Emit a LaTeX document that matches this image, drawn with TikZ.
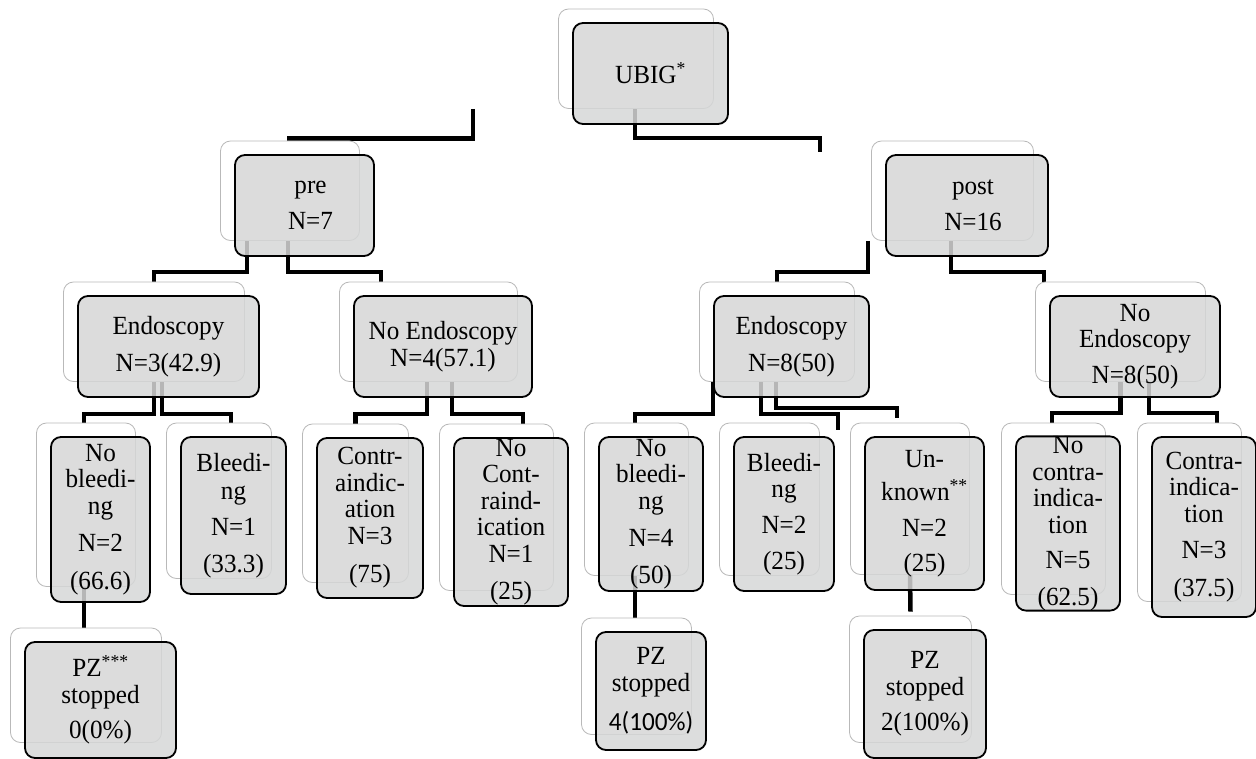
\documentclass[tikz,border=0pt]{standalone}
\usepackage{fontspec}
\setmainfont[FakeStretch=0.96]{Liberation Serif}
\newfontfamily\calib[FakeStretch=0.96]{Carlito}
\pgfdeclarelayer{bg}
\pgfsetlayers{bg,main}
\definecolor{boxgray}{RGB}{214,215,215}
\definecolor{shadowedge}{RGB}{185,185,185}
\tikzset{
  backbox/.style={draw=shadowedge, line width=0.8pt, fill=white, rounded corners=10pt, inner sep=0pt},
  frontbox/.style={draw=black, line width=1.8pt, fill=boxgray, fill opacity=0.85, text opacity=1,
    rounded corners=10pt, inner sep=0pt, align=center, font=\fontsize{26.2}{26.5}\selectfont},
  conn/.style={draw=black, line width=4.5pt, line join=miter},
}
% \tbox{name}{x1}{y1}{x2}{y2}{text}: grey box with its white back box
\newcommand\tbox[6]{%
  \pgfmathsetmacro\bw{#4-#2}%
  \pgfmathsetmacro\bh{#5-#3}%
  \pgfmathsetmacro\bhs{#5-#3-1.5}%
  \pgfmathsetmacro\bcx{(#2+#4)/2}%
  \pgfmathsetmacro\bcy{(#3+#5)/2}%
  \node[backbox, minimum width=\bw pt, minimum height=\bhs pt] (#1S) at (\bcx-14.5,\bcy-14.75) {};%
  \node[frontbox, minimum width=\bw pt, minimum height=\bh pt] (#1) at (\bcx,\bcy) {#6};%
}
\begin{document}
\begin{tikzpicture}[x=1pt,y=-1pt]
\useasboundingbox (0,0) rectangle (1256,759);

\tbox{ubig}{573}{23}{728}{124}{UBIG\textsuperscript{*}}
\tbox{pre}{235}{155}{374}{256}{\hspace*{12pt}pre\\[10pt]\hspace*{12pt}N=7}
\tbox{post}{886}{155}{1048}{256}{\hspace*{12pt}post\\[10pt]\hspace*{12pt}N=16}

\tbox{endoA}{78}{296}{259}{397}{Endoscopy\\[10pt]N=3(42.9)}
\tbox{noendoA}{354}{296}{532}{397}{No Endoscopy\\N=4(57.1)}
\tbox{endoB}{714}{296}{869}{397}{Endoscopy\\[11pt]N=8(50)}
\tbox{noendoB}{1050}{296}{1220}{397}{No\\Endoscopy\\[9pt]N=8(50)}

\tbox{nobleedA}{51}{437}{150}{602}{No\\bleedi-\\ng\\[11pt]N=2\\[11pt](66.6)}
\tbox{bleedA}{181}{437}{286}{594}{Bleedi-\\[2pt]ng\\[9pt]N=1\\[11pt](33.3)}
\tbox{contraA}{317}{438}{423}{598}{Contr-\\aindic-\\ation\\N=3\\[12pt](75)}
\tbox{nocontraA}{454}{438}{568}{606}{No\\Cont-\\raind-\\ication\\N=1\\[11pt](25)}
\tbox{pzA}{25}{642}{176}{758}{PZ\textsuperscript{***}\\stopped\\[9pt]0(0\%)}

\tbox{nobleedB}{599}{437}{703}{591}{No\\bleedi-\\ng\\[11pt]N=4\\[10pt](50)}
\tbox{bleedB}{734}{437}{834}{591}{Bleedi-\\ng\\[9pt]N=2\\[10pt](25)}
\tbox{unknown}{865}{437}{984}{590}{Un-\\[7pt]known\textsuperscript{**}\\[9pt]N=2\\[9pt](25)}
\tbox{pzB}{596}{632}{706}{750}{PZ\\stopped\\[13pt]{\calib 4(100\%)}}
\tbox{pzC}{864}{630}{986}{758}{PZ\\stopped\\[9pt]2(100\%)}
\tbox{nocontraB}{1016}{437}{1120}{610}{No\\contra-\\indica-\\tion\\[9pt]N=5\\[10pt](62.5)}
\tbox{contraB}{1152}{437}{1256}{617}{Contra-\\indica-\\tion\\[10pt]N=3\\[11pt](37.5)}

\begin{pgfonlayer}{bg}
  % from UBIG
  \draw[conn] ([xshift=-163pt]ubigS.south) |- ([xshift=-3pt,yshift=2pt]preS.north);
  \draw[conn] ([xshift=-1pt]ubigS.south) -- ++(0,29) -| ([xshift=-132.5pt,yshift=-11pt]postS.north);
  % from pre
  \draw[conn] ([xshift=-43pt]preS.south) -- ++(0,31) -| (endoAS.north);
  \draw[conn] ([xshift=-2pt]preS.south) -- ++(0,31) -| ([xshift=-47.5pt]noendoAS.north);
  % from Endoscopy (pre)
  \draw[conn] (endoAS.south) -- ++(0,32) -| ([xshift=-2pt]nobleedAS.north);
  \draw[conn] ([xshift=8pt]endoAS.south) -- ++(0,32) -| ([xshift=12pt]bleedAS.north);
  % from No Endoscopy (pre)
  \draw[conn] ([xshift=-1.5pt]noendoAS.south) -- ++(0,32) -| (contraAS.north);
  \draw[conn] ([xshift=23.5pt]noendoAS.south) -- ++(0,32) -| ([xshift=26.5pt]nocontraAS.north);
  % No bleeding -> PZ
  \draw[conn] ([xshift=-2pt]nobleedAS.south) -- ([xshift=-2pt]pzAS.north);
  % from post
  \draw[conn] ([xshift=-84.5pt]postS.south) -- ++(0,31) -| (endoBS.north);
  \draw[conn] ([xshift=-1.5pt]postS.south) -- ++(0,31) -| ([xshift=-76.5pt]noendoBS.north);
  % from Endoscopy (post)
  \draw[conn] ([xshift=-64pt]endoBS.south) -- ++(0,32) -| ([xshift=-1.5pt]nobleedBS.north);
  \draw[conn] ([xshift=-16pt]endoBS.south) -- ++(0,32) -| ([xshift=68.5pt,yshift=-7pt]bleedBS.north);
  \draw[conn] ([xshift=-1pt]endoBS.south) -- ++(0,26) -| ([xshift=-13pt,yshift=5pt]unknownS.north);
  % from No Endoscopy (post)
  \draw[conn] (noendoBS.south) -- ++(0,31) -| ([xshift=-1.5pt]nocontraBS.north);
  \draw[conn] ([xshift=28.5pt]noendoBS.south) -- ++(0,31) -| ([xshift=27.5pt]contraBS.north);
  % to PZ boxes
  \draw[conn] ([xshift=-1.5pt]nobleedBS.south) -- ([xshift=-1.5pt]pzBS.north);
  \draw[conn] (unknownS.south) -- ([yshift=4pt]pzCS.north);
\end{pgfonlayer}
\end{tikzpicture}
\end{document}
